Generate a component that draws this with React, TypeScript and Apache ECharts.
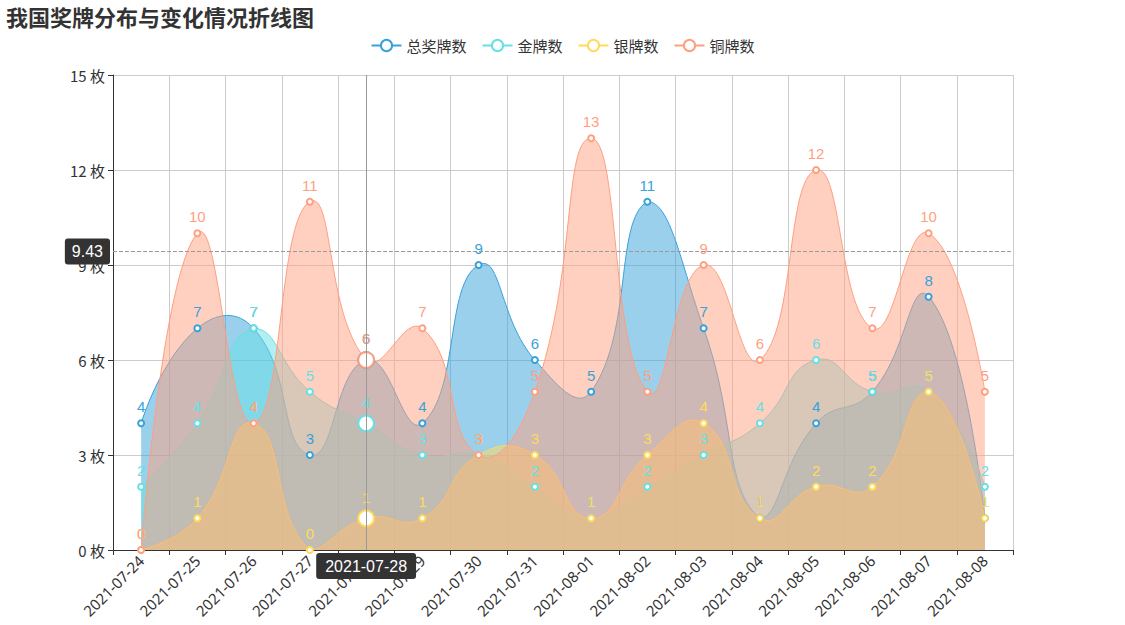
import React, { useEffect, useRef } from "react";
import * as echarts from "echarts";

const dates = [
  "2021-07-24", "2021-07-25", "2021-07-26", "2021-07-27", "2021-07-28", "2021-07-29",
  "2021-07-30", "2021-07-31", "2021-08-01", "2021-08-02", "2021-08-03", "2021-08-04",
  "2021-08-05", "2021-08-06", "2021-08-07", "2021-08-08",
];
const totalMedals = [4, 7, 7, 3, 6, 4, 9, 6, 5, 11, 7, 1, 4, 5, 8, 1];
const goldMedals = [2, 4, 7, 5, 4, 3, 3, 2, 1, 2, 3, 4, 6, 5, 5, 2];
const silverMedals = [0, 1, 4, 0, 1, 1, 3, 3, 1, 3, 4, 1, 2, 2, 5, 1];
const bronzeMedals = [0, 10, 4, 11, 6, 7, 3, 5, 13, 5, 9, 6, 12, 7, 10, 5];
const seriesNames = ["总奖牌数", "金牌数", "银牌数", "铜牌数"];
const colors = ["#37A2DA", "#67E0E3", "#FFDB5C", "#ff9f7f"];
const pointerDate = "2021-07-28";
const pointerValue = 9.43;

// ECharts 4 style smoothing (control points constrained only to the bbox of the series)
function smoothPath(pts: number[][], smooth: number): string {
  let minX = Infinity, minY = Infinity, maxX = -Infinity, maxY = -Infinity;
  pts.forEach((p) => {
    minX = Math.min(minX, p[0]); maxX = Math.max(maxX, p[0]);
    minY = Math.min(minY, p[1]); maxY = Math.max(maxY, p[1]);
  });
  const clamp = (c: number[]) => [
    Math.max(minX, Math.min(maxX, c[0])),
    Math.max(minY, Math.min(maxY, c[1])),
  ];
  let d = `M${pts[0][0]},${pts[0][1]}`;
  let cp0 = [pts[0][0], pts[0][1]];
  for (let i = 1; i < pts.length; i++) {
    const p = pts[i];
    const prev = pts[i - 1];
    const next = pts[i + 1];
    let cp1: number[];
    let v = [0, 0];
    let ratioNext = 0.5;
    if (!next) {
      cp1 = [p[0], p[1]];
    } else {
      v = [next[0] - prev[0], next[1] - prev[1]];
      const lp = Math.hypot(p[0] - prev[0], p[1] - prev[1]);
      const ln = Math.hypot(p[0] - next[0], p[1] - next[1]);
      ratioNext = ln / (ln + lp);
      cp1 = [p[0] - v[0] * smooth * (1 - ratioNext), p[1] - v[1] * smooth * (1 - ratioNext)];
    }
    const c0 = clamp(cp0);
    const c1 = clamp(cp1);
    d += ` C${c0[0]},${c0[1]} ${c1[0]},${c1[1]} ${p[0]},${p[1]}`;
    cp0 = [p[0] + v[0] * smooth * ratioNext, p[1] + v[1] * smooth * ratioNext];
  }
  return d;
}

export default function App() {
  const ref = useRef<HTMLDivElement>(null);
  useEffect(() => {
    document.body.style.margin = "0";
    const chart = echarts.init(ref.current!, undefined, { renderer: "svg" });
    const data = [totalMedals, goldMedals, silverMedals, bronzeMedals];
    const lineSeries = seriesNames.map((name, i) => ({
      name,
      type: "line",
      data: data[i],
      z: 4,
      symbol: "emptyCircle",
      symbolSize: 6,
      lineStyle: { width: 0, opacity: 0 },
      itemStyle: { color: colors[i], borderWidth: 1.5 },
      label: { show: true, position: "top", fontSize: 15, color: colors[i] },
      emphasis: { scale: 2.6, lineStyle: { width: 0, opacity: 0 } },
    }));
    const curveSeries = seriesNames.map((name, i) => ({
      name,
      type: "custom",
      silent: true,
      z: 2,
      data: [[0, 0]],
      renderItem: (params: any, api: any) => {
        const pts = data[i].map((v, k) => api.coord([k, v]));
        const line = smoothPath(pts, 0.5);
        const base = api.coord([0, 0])[1];
        const last = pts[pts.length - 1];
        const area = `${line} L${last[0]},${base} L${pts[0][0]},${base} Z`;
        return {
          type: "group",
          children: [
            { type: "path", shape: { pathData: area }, style: { fill: colors[i], opacity: 0.5 } },
            { type: "path", shape: { pathData: line }, style: { fill: "none", stroke: colors[i], lineWidth: 1 } },
          ],
        };
      },
    }));
    chart.setOption({
      animation: false,
      color: colors,
      title: {
        text: "我国奖牌分布与变化情况折线图",
        left: 1,
        top: 0,
        textStyle: { fontSize: 22, fontWeight: "bold", color: "#333", fontFamily: "Noto Sans CJK SC" },
      },
      legend: {
        top: 33,
        data: seriesNames,
        itemWidth: 30,
        itemGap: 15,
        lineStyle: { width: 2, opacity: 1 },
        textStyle: { fontSize: 15, color: "#333", fontFamily: "Noto Sans CJK SC" },
      },
      grid: { left: 113, right: 112, top: 75, bottom: 75 },
      xAxis: {
        type: "category",
        data: dates,
        boundaryGap: true,
        axisLine: { lineStyle: { color: "#333" } },
        axisTick: { show: true },
        axisLabel: { rotate: 45, fontSize: 15, color: "#333", interval: 0, fontFamily: "Noto Sans" },
        splitLine: { show: true, lineStyle: { color: "#ccc" } },
        axisPointer: {
          show: true,
          value: pointerDate,
          status: "show",
          type: "line",
          lineStyle: { color: "#999", width: 1, type: "solid" },
          label: { show: true, backgroundColor: "#333", color: "#fff", fontSize: 16, padding: [5, 9] },
        },
      },
      yAxis: {
        type: "value",
        min: 0,
        max: 15,
        interval: 3,
        axisLine: { show: true, lineStyle: { color: "#333" } },
        axisTick: { show: true },
        axisLabel: { formatter: "{value} 枚", fontSize: 15, color: "#333", fontFamily: "Noto Sans CJK SC" },
        splitLine: { show: true, lineStyle: { color: "#ccc" } },
        axisPointer: {
          show: true,
          value: pointerValue,
          status: "show",
          type: "line",
          lineStyle: { color: "#999", width: 1, type: "dashed" },
          label: { show: true, backgroundColor: "#333", color: "#fff", fontSize: 16, padding: [5, 7], precision: 2 },
        },
      },
      series: [...lineSeries, ...curveSeries],
    });
    chart.dispatchAction({ type: "highlight", seriesIndex: [0, 1, 2, 3], dataIndex: 4 });
    return () => chart.dispose();
  }, []);
  return <div ref={ref} style={{ width: 1125, height: 625 }} />;
}
